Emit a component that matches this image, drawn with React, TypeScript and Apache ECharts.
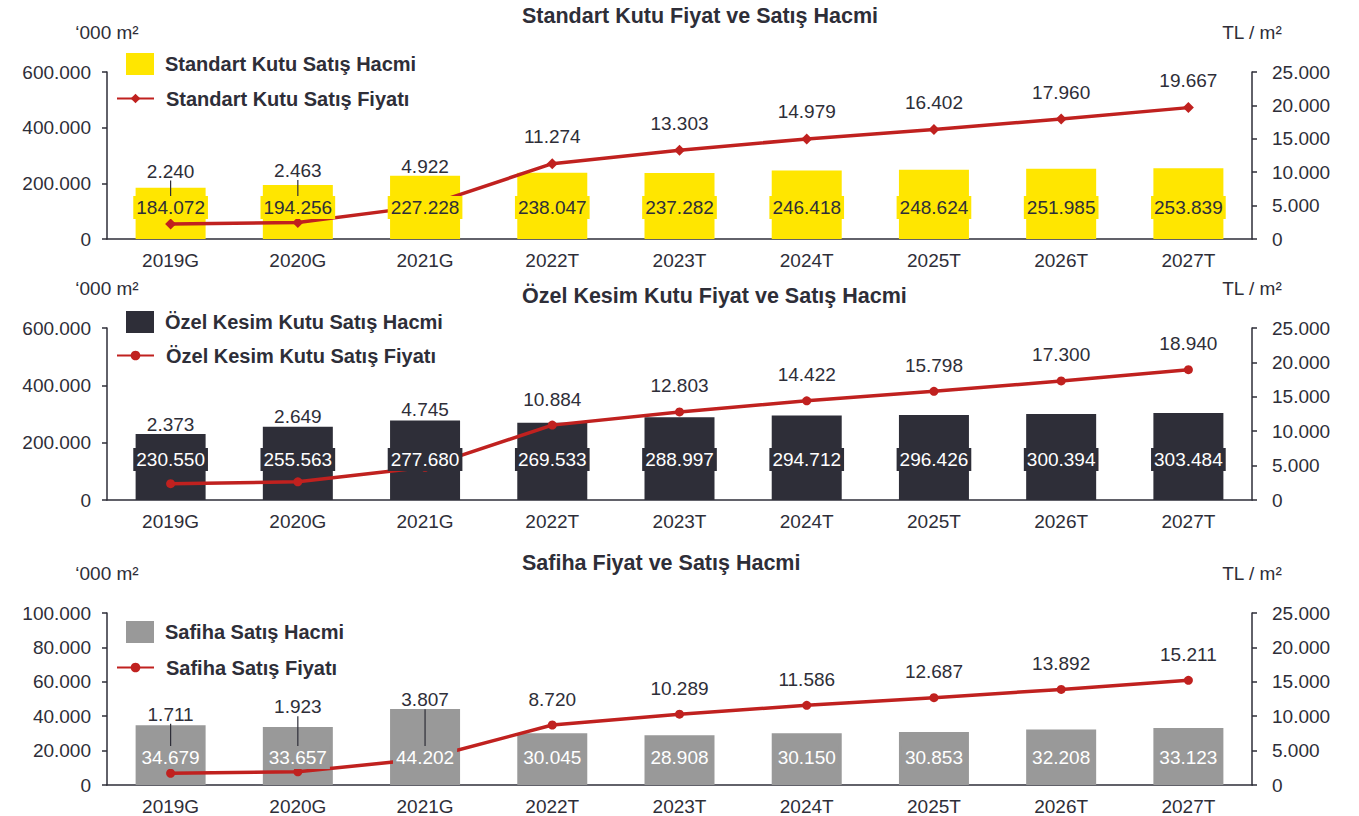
import React, { useEffect, useRef } from 'react';
import * as echarts from 'echarts';

// ---------- DATA ----------
const categories = ['2019G', '2020G', '2021G', '2022T', '2023T', '2024T', '2025T', '2026T', '2027T'];

const standartVolume = [184072, 194256, 227228, 238047, 237282, 246418, 248624, 251985, 253839];
const standartPrice = [2240, 2463, 4922, 11274, 13303, 14979, 16402, 17960, 19667];

const ozelVolume = [230550, 255563, 277680, 269533, 288997, 294712, 296426, 300394, 303484];
const ozelPrice = [2373, 2649, 4745, 10884, 12803, 14422, 15798, 17300, 18940];

const safihaVolume = [34679, 33657, 44202, 30045, 28908, 30150, 30853, 32208, 33123];
const safihaPrice = [1711, 1923, 3807, 8720, 10289, 11586, 12687, 13892, 15211];

const volumeAxisMax = [600000, 600000, 100000];
const volumeAxisStep = [200000, 200000, 20000];
const priceAxisMax = 25000;
const priceAxisStep = 5000;

const titles = ['Standart Kutu Fiyat ve Satış Hacmi', 'Özel Kesim Kutu Fiyat ve Satış Hacmi', 'Safiha Fiyat ve Satış Hacmi'];
const barNames = ['Standart Kutu Satış Hacmi', 'Özel Kesim Kutu Satış Hacmi', 'Safiha Satış Hacmi'];
const lineNames = ['Standart Kutu Satış Fiyatı', 'Özel Kesim Kutu Satış Fiyatı', 'Safiha Satış Fiyatı'];
const leftAxisName = '‘000 m²';
const rightAxisName = 'TL / m²';

// ---------- STYLE ----------
const TEXT = '#2E2E38';
const RED = '#C0211F';
const FONT = '"Liberation Sans", Arial, sans-serif';

const panels = [
  {
    vol: standartVolume, price: standartPrice, top: 72, height: 167, titleTop: 5,
    barColor: '#FFE600', labelColor: TEXT, labelDist: 20, symbol: 'diamond', symbolSize: 11,
    barLegendTop: 53, lineLegendCenter: 100,
    lift: [-26, -25, -13, 0, 0, 0, 0, 0, 0], leader: [1, 1, 0, 0, 0, 0, 0, 0, 0],
  },
  {
    vol: ozelVolume, price: ozelPrice, top: 328, height: 172, titleTop: 285,
    barColor: '#2E2E38', labelColor: '#FFFFFF', labelDist: 29, symbol: 'circle', symbolSize: 9,
    barLegendTop: 311, lineLegendCenter: 357,
    lift: [-33, -39, -32, 0, 0, 0, 0, 0, 0], leader: [0, 0, 0, 0, 0, 0, 0, 0, 0],
  },
  {
    vol: safihaVolume, price: safihaPrice, top: 613, height: 173, titleTop: 552,
    barColor: '#999999', labelColor: '#FFFFFF', labelDist: 16, symbol: 'circle', symbolSize: 9,
    barLegendTop: 621, lineLegendCenter: 669,
    lift: [-33, -39, -33, 0, 0, 0, 0, 0, 0], leader: [1, 1, 1, 0, 0, 0, 0, 0, 0],
  },
];

const fmt = (v: number) => String(Math.round(v)).replace(/\B(?=(\d{3})+(?!\d))/g, '.');

function buildOption() {
  const title: any[] = [];
  const grid: any[] = [];
  const xAxis: any[] = [];
  const yAxis: any[] = [];
  const legend: any[] = [];
  const series: any[] = [];

  panels.forEach((p, i) => {
    title.push({
      text: titles[i], left: 522, top: p.titleTop, padding: 0,
      textStyle: { fontSize: 21.5, fontWeight: 'bold', color: TEXT, fontFamily: FONT },
    });
    grid.push({ left: 107, right: 107, top: p.top, height: p.height });
    xAxis.push({
      type: 'category', gridIndex: i, data: categories,
      axisLine: { lineStyle: { color: TEXT, width: 1.5 } },
      axisTick: { show: false },
      axisLabel: { color: TEXT, fontSize: 19, margin: 12, fontFamily: FONT },
    });
    const axisCommon = {
      type: 'value', gridIndex: i, min: 0,
      nameLocation: 'end', nameGap: 30,
      nameTextStyle: { color: TEXT, fontSize: 19, fontFamily: FONT, align: 'center' },
      axisLine: { show: true, lineStyle: { color: TEXT, width: 1.5 } },
      axisTick: { show: true, length: 5, lineStyle: { color: TEXT, width: 1.5 } },
      splitLine: { show: false },
    };
    yAxis.push({
      ...axisCommon, position: 'left', max: volumeAxisMax[i], interval: volumeAxisStep[i],
      name: leftAxisName,
      axisLabel: { color: TEXT, fontSize: 19, margin: 16, fontFamily: FONT, formatter: fmt },
    });
    yAxis.push({
      ...axisCommon, position: 'right', max: priceAxisMax, interval: priceAxisStep,
      name: rightAxisName,
      axisLabel: { color: TEXT, fontSize: 19, margin: 20, fontFamily: FONT, formatter: fmt },
    });

    legend.push({
      data: [{ name: barNames[i], icon: 'rect' }], left: 126, top: p.barLegendTop, itemWidth: 28, itemHeight: 22,
      padding: 0, selectedMode: false,
      textStyle: { fontSize: 20, fontWeight: 'bold', color: TEXT, fontFamily: FONT, padding: [0, 0, 0, 6] },
    });
    legend.push({
      data: [lineNames[i]], left: 116, top: p.lineLegendCenter - 11.5, itemWidth: 37, itemHeight: 12,
      padding: 0, selectedMode: false,
      textStyle: { fontSize: 20, fontWeight: 'bold', color: TEXT, fontFamily: FONT, padding: [0, 0, 0, 7] },
    });

    series.push({
      type: 'bar', name: barNames[i], xAxisIndex: i, yAxisIndex: 2 * i,
      data: p.vol, barWidth: 70, barGap: '-100%', z: 1,
      itemStyle: { color: p.barColor },
    });
    series.push({
      type: 'line', name: lineNames[i], xAxisIndex: i, yAxisIndex: 2 * i + 1,
      data: p.price.map((v, k) => ({ value: v, labelLine: { show: !!p.leader[k] } })),
      symbol: p.symbol, symbolSize: p.symbolSize, z: 2,
      lineStyle: { color: RED, width: 3.5 },
      itemStyle: { color: RED },
      label: {
        show: true, position: 'top', distance: 12, color: TEXT, fontSize: 19, fontFamily: FONT,
        formatter: (q: any) => fmt(q.value),
      },
      labelLine: { lineStyle: { color: TEXT, width: 1.2 } },
      labelLayout: (q: any) => ({ dy: p.lift[q.dataIndex] || 0 }),
    });
    series.push({
      type: 'bar', name: barNames[i] + ' etiket', xAxisIndex: i, yAxisIndex: 2 * i,
      data: p.vol, barWidth: 70, barGap: '-100%', z: 3, silent: true,
      itemStyle: { color: 'rgba(0,0,0,0)' },
      label: {
        show: true, position: 'insideBottom', distance: p.labelDist,
        color: p.labelColor, backgroundColor: p.barColor, padding: [2, 3],
        fontSize: 19, fontFamily: FONT,
        formatter: (q: any) => fmt(q.value),
      },
    });
  });

  return {
    animation: false,
    backgroundColor: '#FFFFFF',
    textStyle: { fontFamily: FONT },
    title, grid, xAxis, yAxis, legend, series,
  };
}

export default function App() {
  const ref = useRef<HTMLDivElement>(null);
  useEffect(() => {
    document.body.style.margin = '0';
    if (!ref.current) return;
    const chart = echarts.init(ref.current, null as any, { renderer: 'svg' });
    chart.setOption(buildOption() as any);
    return () => chart.dispose();
  }, []);
  return <div ref={ref} style={{ width: 1359, height: 816 }} />;
}
